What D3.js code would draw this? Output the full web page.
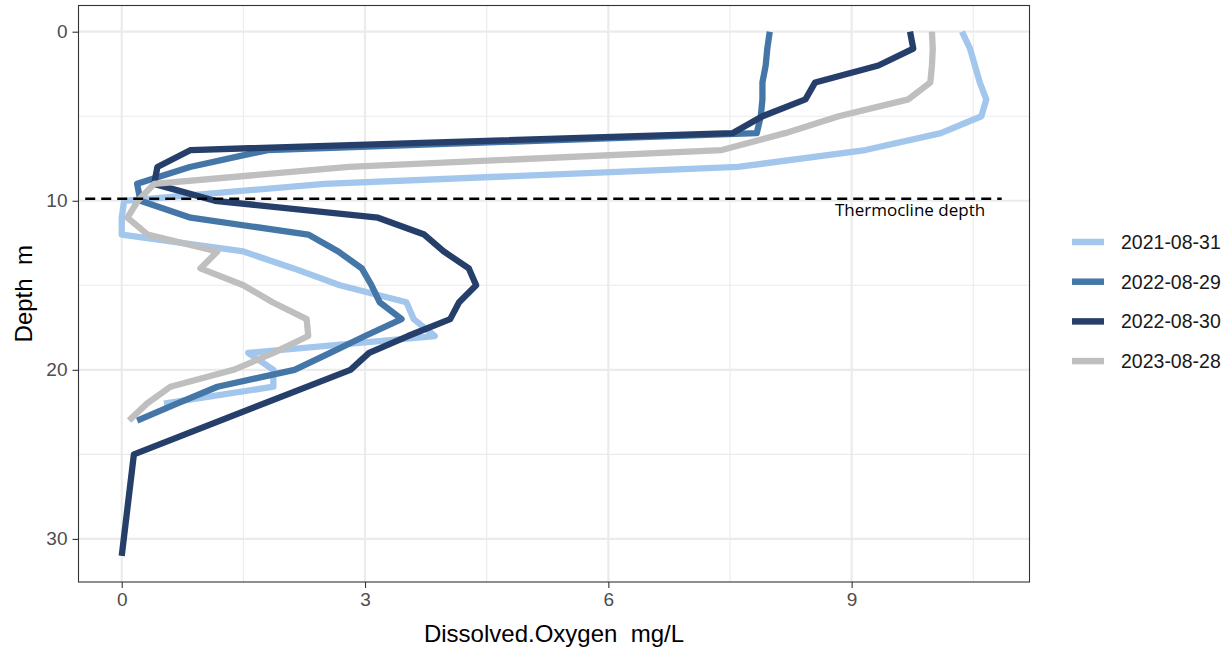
<!DOCTYPE html>
<html>
<head>
<meta charset="utf-8">
<script src="https://cdn.jsdelivr.net/npm/d3@7"></script>
<style>
  html, body { margin: 0; padding: 0; background: #fff; }
</style>
</head>
<body>
<div id="chart"></div>
<script>
// dates of the four profiles (legend order)
const dates = ["2021-08-31", "2022-08-29", "2022-08-30", "2023-08-28"];
const colors = ["#a3c7ec", "#4477a7", "#263f6a", "#bfbfbf"];

// depth (m) and dissolved oxygen (mg/L) per profile
const depth2021 = [0, 1, 2, 3, 4, 5, 6, 7, 8, 9, 10, 11, 12, 13, 14, 15, 16, 17, 18, 19, 20, 21, 22];
const oxy2021 = [10.36, 10.46, 10.52, 10.58, 10.66, 10.6, 10.1, 9.17, 7.6, 2.5, 0.03, 0.0, 0.0, 1.5, 2.12, 2.69, 3.51, 3.6, 3.86, 1.56, 1.87, 1.87, 0.52];

const depth20220829 = [0, 1, 2, 3, 4, 5, 6, 7, 8, 9, 10, 11, 12, 13, 14, 15, 16, 17, 18, 19, 20, 21, 22, 23];
const oxy20220829 = [7.99, 7.96, 7.94, 7.9, 7.9, 7.88, 7.83, 1.8, 0.84, 0.19, 0.23, 0.85, 2.3, 2.67, 2.96, 3.08, 3.18, 3.45, 3.0, 2.57, 2.13, 1.18, 0.68, 0.19];

const depth20220830 = [0, 1, 2, 3, 4, 5, 6, 7, 8, 9, 10, 11, 12, 13, 14, 15, 16, 17, 18, 19, 20, 25, 31];
const oxy20220830 = [9.72, 9.76, 9.33, 8.55, 8.43, 7.9, 7.53, 0.85, 0.44, 0.4, 1.15, 3.16, 3.73, 3.97, 4.28, 4.37, 4.16, 4.05, 3.53, 3.05, 2.82, 0.15, 0.0];

const depth2023 = [0, 1, 2, 3, 4, 5, 6, 7, 8, 9, 10, 11, 12, 13, 14, 15, 16, 17, 18, 19, 20, 21, 22, 23];
const oxy2023 = [9.99, 10.0, 9.99, 9.97, 9.7, 8.84, 8.18, 7.4, 2.8, 0.4, 0.2, 0.07, 0.32, 1.18, 0.97, 1.5, 1.86, 2.28, 2.3, 1.87, 1.38, 0.6, 0.31, 0.09];

const xTicks = [0, 3, 6, 9];
const yTicks = [0, 10, 20, 30];
const thermoclineDepth = 9.88;
const thermoclineLabel = "Thermocline depth";

const width = 1230;
const height = 649;
const panel = { left: 78.5, right: 1029.5, top: 5.5, bottom: 582 };

const profiles = [
  [depth2021, oxy2021],
  [depth20220829, oxy20220829],
  [depth20220830, oxy20220830],
  [depth2023, oxy2023],
].map(([dep, oxy], i) => ({
  date: dates[i],
  color: colors[i],
  values: dep.map((d, j) => ({ depth: d, oxy: oxy[j] })),
}));

// ggplot-style 5% expansion of the data range
function expand([a, b], mult = 0.05) {
  const pad = (b - a) * mult;
  return [a - pad, b + pad];
}
const allValues = profiles.flatMap((p) => p.values);
const x = d3
  .scaleLinear()
  .domain(expand([0, d3.max(allValues, (d) => d.oxy)]))
  .range([panel.left, panel.right]);
const y = d3
  .scaleLinear()
  .domain(expand([0, d3.max(allValues, (d) => d.depth)]))
  .range([panel.top, panel.bottom]);

const svg = d3
  .select("#chart")
  .append("svg")
  .attr("width", width)
  .attr("height", height)
  .attr("viewBox", [0, 0, width, height])
  .style("font-family", "'Liberation Sans', Arial, sans-serif");

// grid: minor then major
const xMinor = xTicks.slice(0, -1).map((t, i) => (t + xTicks[i + 1]) / 2).concat([xTicks[xTicks.length - 1] + 1.5]);
const yMinor = yTicks.slice(0, -1).map((t, i) => (t + yTicks[i + 1]) / 2);

const grid = svg.append("g").attr("stroke", "#ebebeb");
grid
  .selectAll(".vminor")
  .data(xMinor.filter((v) => x(v) < panel.right))
  .join("line")
  .attr("x1", (d) => x(d))
  .attr("x2", (d) => x(d))
  .attr("y1", panel.top)
  .attr("y2", panel.bottom)
  .attr("stroke-width", 1.1);
grid
  .selectAll(".hminor")
  .data(yMinor)
  .join("line")
  .attr("y1", (d) => y(d))
  .attr("y2", (d) => y(d))
  .attr("x1", panel.left)
  .attr("x2", panel.right)
  .attr("stroke-width", 1.1);
grid
  .append("g")
  .selectAll("line")
  .data(xTicks)
  .join("line")
  .attr("x1", (d) => x(d))
  .attr("x2", (d) => x(d))
  .attr("y1", panel.top)
  .attr("y2", panel.bottom)
  .attr("stroke-width", 2.2);
grid
  .append("g")
  .selectAll("line")
  .data(yTicks)
  .join("line")
  .attr("y1", (d) => y(d))
  .attr("y2", (d) => y(d))
  .attr("x1", panel.left)
  .attr("x2", panel.right)
  .attr("stroke-width", 2.2);

// profiles
const line = d3
  .line()
  .x((d) => x(d.oxy))
  .y((d) => y(d.depth));

svg
  .append("g")
  .attr("fill", "none")
  .attr("stroke-width", 6.3)
  .attr("stroke-linejoin", "round")
  .attr("stroke-linecap", "butt")
  .selectAll("path")
  .data(profiles)
  .join("path")
  .attr("stroke", (d) => d.color)
  .attr("d", (d) => line(d.values));

// thermocline
svg
  .append("line")
  .attr("x1", x(-0.45))
  .attr("x2", x(10.85))
  .attr("y1", y(thermoclineDepth))
  .attr("y2", y(thermoclineDepth))
  .attr("stroke", "#000")
  .attr("stroke-width", 2.3)
  .attr("stroke-dasharray", "10,6");

svg
  .append("text")
  .attr("x", x(9.72))
  .attr("y", y(thermoclineDepth) + 11)
  .attr("dy", "0.35em")
  .attr("text-anchor", "middle")
  .attr("font-family", "'Open Sans', 'Noto Sans', sans-serif")
  .attr("font-size", 17)
  .attr("fill", "#000")
  .text(thermoclineLabel);

// panel border
svg
  .append("rect")
  .attr("x", panel.left)
  .attr("y", panel.top)
  .attr("width", panel.right - panel.left)
  .attr("height", panel.bottom - panel.top)
  .attr("fill", "none")
  .attr("stroke", "#333")
  .attr("stroke-width", 1.1);

// axes
const xAxis = d3.axisBottom(x).tickValues(xTicks).tickSize(6).tickPadding(5).tickFormat(d3.format("d"));
const yAxis = d3.axisLeft(y).tickValues(yTicks).tickSize(6).tickPadding(5).tickFormat(d3.format("d"));

svg
  .append("g")
  .attr("transform", `translate(0,${panel.bottom})`)
  .call(xAxis)
  .call((g) => g.select(".domain").remove())
  .call((g) => g.selectAll(".tick line").attr("stroke", "#333").attr("stroke-width", 1.1))
  .call((g) =>
    g.selectAll(".tick text")
      .attr("fill", "#4d4d4d")
      .attr("font-size", 19)
      .attr("font-family", "'Liberation Sans', Arial, sans-serif")
  );

svg
  .append("g")
  .attr("transform", `translate(${panel.left},0)`)
  .call(yAxis)
  .call((g) => g.select(".domain").remove())
  .call((g) => g.selectAll(".tick line").attr("stroke", "#333").attr("stroke-width", 1.1))
  .call((g) =>
    g.selectAll(".tick text")
      .attr("fill", "#4d4d4d")
      .attr("font-size", 19)
      .attr("font-family", "'Liberation Sans', Arial, sans-serif")
  );

// axis titles
svg
  .append("text")
  .attr("x", (panel.left + panel.right) / 2)
  .attr("y", 642)
  .attr("text-anchor", "middle")
  .attr("font-size", 24)
  .attr("fill", "#000")
  .style("white-space", "pre")
  .text("Dissolved.Oxygen  mg/L");

svg
  .append("text")
  .attr("transform", `translate(32,${(panel.top + panel.bottom) / 2}) rotate(-90)`)
  .attr("text-anchor", "middle")
  .attr("font-size", 24)
  .attr("fill", "#000")
  .style("white-space", "pre")
  .text("Depth  m");

// legend
const legend = svg
  .append("g")
  .selectAll("g")
  .data(profiles)
  .join("g")
  .attr("transform", (d, i) => `translate(1072,${242 + i * 39.7})`);
legend
  .append("line")
  .attr("x1", 0)
  .attr("x2", 32)
  .attr("stroke", (d) => d.color)
  .attr("stroke-width", 6.5);
legend
  .append("text")
  .attr("x", 49)
  .attr("dy", "0.35em")
  .attr("font-size", 19.5)
  .attr("fill", "#1a1a1a")
  .text((d) => d.date);
</script>
</body>
</html>
